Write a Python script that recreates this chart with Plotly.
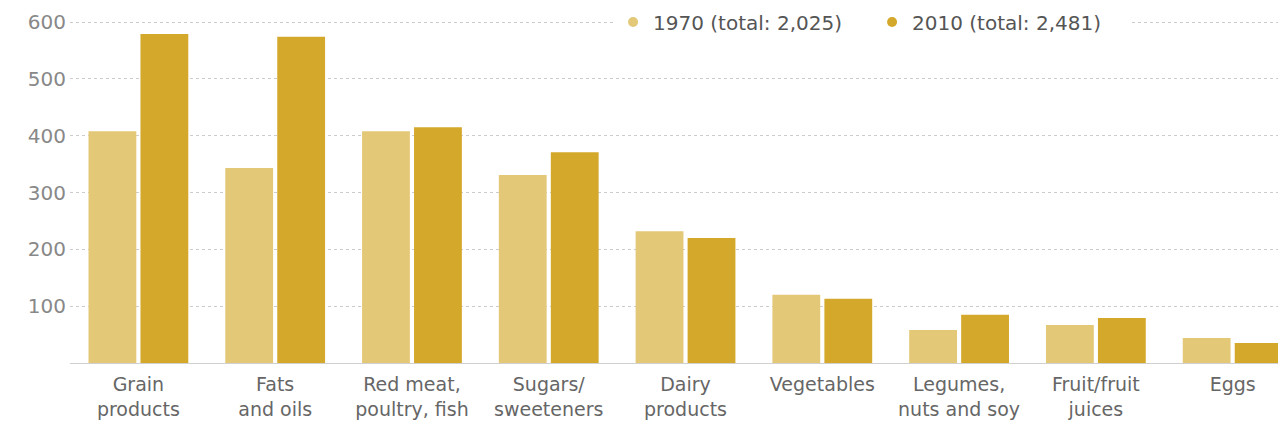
import plotly.graph_objects as go

categories = ["Grain<br>products", "Fats<br>and oils", "Red meat,<br>poultry, fish", "Sugars/<br>sweeteners",
              "Dairy<br>products", "Vegetables", "Legumes,<br>nuts and soy", "Fruit/fruit<br>juices", "Eggs"]
values_1970 = [408, 343, 408, 331, 232, 120, 58, 67, 44]
values_2010 = [579, 574, 415, 371, 220, 113, 85, 79, 35]
series_names = ["1970 (total: 2,025)", "2010 (total: 2,481)"]
colors = ["#E3C878", "#D4A82B"]
y_ticks = [100, 200, 300, 400, 500, 600]

FONT = "DejaVu Sans, Verdana, sans-serif"

fig = go.Figure()
for vals, name, col in zip([values_1970, values_2010], series_names, colors):
    fig.add_trace(go.Bar(x=categories, y=vals, name=name, showlegend=False,
                         marker=dict(color=col, line=dict(width=0))))
# legend entries with round markers
for name, col in zip(series_names, colors):
    fig.add_trace(go.Scatter(x=[None], y=[None], mode="markers", name=name,
                             marker=dict(symbol="circle", size=10, color=col)))

# page has an 8px body margin, so the figure is sized to fill the rest of the window
fig.update_layout(
    width=1278, height=422,
    margin=dict(l=62, r=0, t=6, b=67, autoexpand=False),
    paper_bgcolor="white", plot_bgcolor="white",
    barmode="group", bargap=0.24, bargroupgap=0.08,
    font=dict(family=FONT, size=18, color="#555555"),
    showlegend=True,
    legend=dict(orientation="h", x=0.4466, y=(355 - 14) / 349, xanchor="left", yanchor="middle",
                bgcolor="white", font=dict(family=FONT, size=20, color="#555555"),
                itemwidth=30, traceorder="normal", entrywidth=214),
    xaxis=dict(range=[-0.5, 8.39], showgrid=False, showline=True, linecolor="#d0d0d0",
               linewidth=1, ticks="", automargin=False, ticklabelstandoff=4,
               tickfont=dict(family=FONT, size=19, color="#666666")),
    yaxis=dict(range=[0, 614.1], tickvals=y_ticks, showgrid=True, gridcolor="#cccccc",
               griddash="dot", gridwidth=1, zeroline=False, ticks="", automargin=False,
               tickfont=dict(family=FONT, size=20, color="#888888"), ticklabelstandoff=3),
)

fig.write_html("out.html")
